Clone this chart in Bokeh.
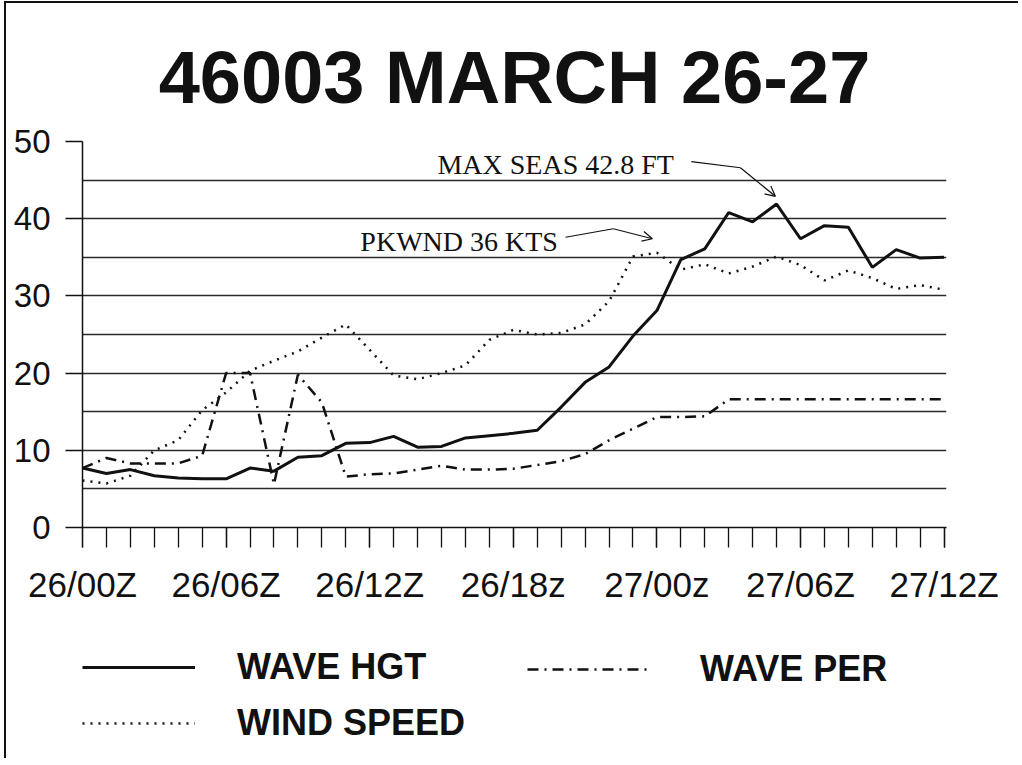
from bokeh.plotting import figure
from bokeh.layouts import column
from bokeh.models import (FixedTicker, Range1d, Legend, LegendItem, Label,
                          Arrow, OpenHead)
from bokeh.embed import file_html
from bokeh.resources import INLINE

# ---- data (hourly, 26/00Z .. 27/12Z) ----
hours = list(range(37))
x_tick_labels = {0: "26/00Z", 6: "26/06Z", 12: "26/12Z", 18: "26/18z",
                 24: "27/00z", 30: "27/06Z", 36: "27/12Z"}
y_ticks = [0, 10, 20, 30, 40, 50]
y_minor = [5, 15, 25, 35, 45]

wave_hgt = [7.7, 7.0, 7.5, 6.7, 6.4, 6.3, 6.3, 7.7, 7.3, 9.1,
            9.3, 10.9, 11.0, 11.8, 10.4, 10.5, 11.6, 11.9, 12.2, 12.6,
            15.6, 18.8, 20.8, 24.8, 28.1, 34.7, 36.1, 40.8, 39.6, 41.9,
            37.4, 39.1, 38.9, 33.7, 36.0, 34.9, 35.0]
wave_per = [7.7, 9.0, 8.3, 8.3, 8.3, 9.3, 20.0, 20.0, 5.6, 19.8,
            16.2, 6.6, 6.9, 7.0, 7.5, 8.0, 7.5, 7.5, 7.6, 8.1,
            8.6, 9.5, 11.3, 12.8, 14.3, 14.3, 14.4, 16.6, 16.6, 16.6,
            16.6, 16.6, 16.6, 16.6, 16.6, 16.6, 16.6]
wind_speed = [6.1, 5.7, 6.7, 10.0, 11.3, 15.2, 17.5, 20.3, 21.6, 22.8,
              24.6, 26.3, 23.0, 19.7, 19.2, 20.0, 21.0, 24.3, 25.6, 25.0,
              25.2, 26.3, 29.3, 35.1, 35.6, 33.4, 34.1, 32.9, 33.8, 35.1,
              34.0, 32.0, 33.3, 32.3, 30.9, 31.4, 30.8]

title_text = "46003 MARCH 26-27"
series_names = ["WAVE HGT", "WAVE PER", "WIND SPEED"]
note_max = "MAX SEAS 42.8 FT"
note_wind = "PKWND 36 KTS"

INK = "#111111"
SANS = "Liberation Sans"
HGT_STYLE = dict(line_color=INK, line_width=3)
PER_STYLE = dict(line_color=INK, line_width=2.5, line_dash="11 6 2 6")
WIND_STYLE = dict(line_color=INK, line_width=2.5, line_dash="2 6")

p = figure(width=1014, height=604, x_range=Range1d(0, 36.1), y_range=Range1d(0, 50),
           output_backend="svg", toolbar_location=None,
           min_border_left=76, min_border_right=74, min_border_top=138,
           min_border_bottom=80)
p.styles = {"border-left": "2px solid #111111", "border-top": "2px solid #111111",
            "margin-left": "4px", "margin-top": "1px"}
p.outline_line_color = None
p.background_fill_color = "white"
p.border_fill_color = "white"

p.title.text = title_text
p.title.text_font = SANS
p.title.text_font_style = "bold"
p.title.text_font_size = "74px"
p.title.text_color = INK
p.title.align = "center"
p.title.standoff = 46

# x axis
xa = p.xaxis[0]
xa.ticker = FixedTicker(ticks=sorted(x_tick_labels.keys()), minor_ticks=hours)
xa.major_label_overrides = dict(x_tick_labels)
xa.major_tick_out = 20
xa.major_tick_in = 0
xa.minor_tick_out = 20
xa.minor_tick_in = 0
xa.major_tick_line_color = INK
xa.minor_tick_line_color = INK
xa.major_tick_line_width = 1.3
xa.minor_tick_line_width = 1.3
xa.axis_line_color = INK
xa.axis_line_width = 1.5
xa.major_label_text_font = SANS
xa.major_label_text_font_size = "35px"
xa.major_label_text_color = INK
xa.major_label_standoff = 17

# y axis
ya = p.yaxis[0]
ya.ticker = FixedTicker(ticks=y_ticks, minor_ticks=y_minor)
ya.major_tick_out = 17
ya.major_tick_in = 0
ya.minor_tick_out = 0
ya.minor_tick_in = 0
ya.major_tick_line_color = INK
ya.major_tick_line_width = 1.3
ya.axis_line_color = INK
ya.axis_line_width = 1.5
ya.major_label_text_font = SANS
ya.major_label_text_font_size = "33px"
ya.major_label_text_color = INK
ya.major_label_standoff = 15

p.xgrid.grid_line_color = None
p.ygrid.grid_line_color = "#2a2a2a"
p.ygrid.grid_line_width = 1.3
p.ygrid.minor_grid_line_color = "#2a2a2a"
p.ygrid.minor_grid_line_width = 1.3

# series
p.line(hours, wave_hgt, **HGT_STYLE)
p.line(hours, wave_per, **PER_STYLE)
p.line(hours, wind_speed, **WIND_STYLE)

# annotations
p.add_layout(Label(x=14.83, y=47.0, text=note_max, text_font="Liberation Serif",
                   text_font_size="28px", text_color=INK, text_baseline="middle"))
p.add_layout(Label(x=11.61, y=37.05, text=note_wind, text_font="Liberation Serif",
                   text_font_size="28px", text_color=INK, text_baseline="middle"))
p.line([25.44, 27.49], [47.4, 46.6], line_color=INK, line_width=1.2)
p.add_layout(Arrow(end=OpenHead(size=10, line_color=INK, line_width=1.2),
                   x_start=27.49, y_start=46.6, x_end=28.95, y_end=42.9,
                   line_color=INK, line_width=1.2))
p.line([20.18, 22.18], [37.6, 38.7], line_color=INK, line_width=1.2)
p.add_layout(Arrow(end=OpenHead(size=10, line_color=INK, line_width=1.2),
                   x_start=22.18, y_start=38.7, x_end=23.81, y_end=37.4,
                   line_color=INK, line_width=1.2))

# ---- legend panel (separate strip under the chart) ----
q = figure(width=1014, height=153, x_range=Range1d(0, 36.1), y_range=Range1d(0, 50),
           output_backend="svg", toolbar_location=None, min_border=0,
           x_axis_type=None, y_axis_type=None)
q.styles = {"border-left": "2px solid #111111", "margin-left": "4px"}
q.outline_line_color = None
q.grid.visible = False
q.background_fill_color = "white"
q.border_fill_color = "white"
k_hgt = q.line(hours, wave_hgt, visible=False, **HGT_STYLE)
k_per = q.line(hours, wave_per, visible=False, **PER_STYLE)
k_wind = q.line(hours, wind_speed, visible=False, **WIND_STYLE)

common = dict(glyph_height=40, label_height=40, spacing=14, padding=0, margin=0,
              border_line_color=None, background_fill_alpha=0,
              label_text_font=SANS, label_text_font_size="36px",
              label_text_font_style="bold", label_text_color=INK,
              click_policy="none")
leg1 = Legend(items=[LegendItem(label=series_names[0], renderers=[k_hgt]),
                     LegendItem(label=series_names[2], renderers=[k_wind])],
              location=(0, 14), glyph_width=113, label_standoff=42, **common)
leg2 = Legend(items=[LegendItem(label=series_names[1], renderers=[k_per])],
              location=(445, 68), glyph_width=123, label_standoff=50, **common)
q.add_layout(leg1)
q.add_layout(leg2)

layout = column(p, q, spacing=0)
open("out.html", "w").write(file_html(layout, INLINE))
